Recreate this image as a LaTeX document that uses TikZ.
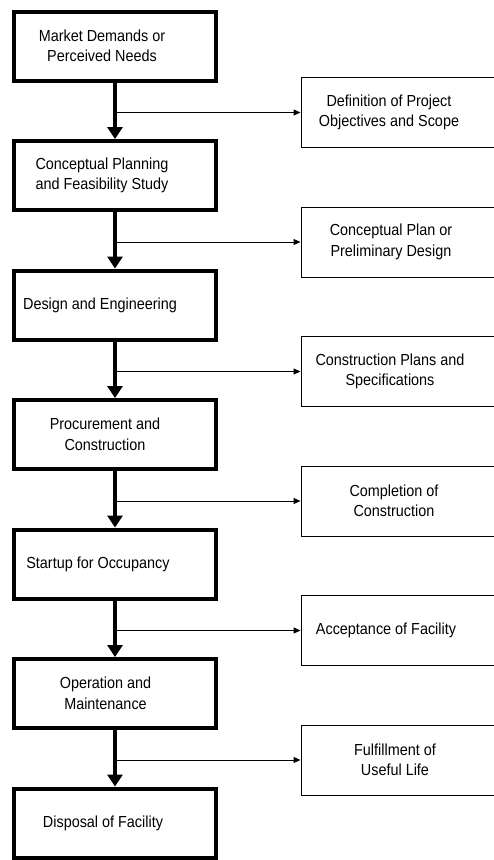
\documentclass[tikz,border=0pt]{standalone}
\usepackage{fontspec}
\setmainfont{Liberation Sans}[FakeStretch=0.9]
\usetikzlibrary{arrows.meta}
\begin{document}
\begin{tikzpicture}[x=1pt,y=-1pt,
  stagebox/.style={draw, line width=4pt, minimum width=202pt, minimum height=69pt, inner sep=0pt},
  outbox/.style={draw, line width=1pt, minimum width=230pt, minimum height=70pt, anchor=west, inner sep=0pt},
  txt/.style={align=center, font=\fontsize{16}{20.5}\selectfont, inner sep=0pt},
  flow/.style={line width=4pt, -{Triangle[length=12pt,width=15pt]}},
  feed/.style={line width=1pt, -{Triangle[length=7pt,width=6pt]}}]
\clip (0,0) rectangle (494,860);

% project stages (left column)
\node[stagebox] (b0) at (115,46) {};
\node[stagebox] (b1) at (115,175.5) {};
\node[stagebox] (b2) at (115,305) {};
\node[stagebox] (b3) at (115,434.5) {};
\node[stagebox] (b4) at (115,564) {};
\node[stagebox] (b5) at (115,693.5) {};
\node[stagebox] (b6) at (115,823) {};

\node[txt] (t0) at (102,46) {Market Demands or\\Perceived Needs};
\node[txt] (t1) at (102,175.5) {Conceptual Planning\\and Feasibility Study};
\node[txt] (t2) at (100,305) {Design and Engineering};
\node[txt] (t3) at (105,434.5) {Procurement and\\Construction};
\node[txt] (t4) at (98,564) {Startup for Occupancy};
\node[txt] (t5) at (105.5,693.5) {Operation and\\Maintenance};
\node[txt] (t6) at (103,823) {Disposal of Facility};

% stage outcomes (right column)
\node[outbox] (r0) at (300.5,112.5) {};
\node[outbox] (r1) at (300.5,242) {};
\node[outbox] (r2) at (300.5,371.5) {};
\node[outbox] (r3) at (300.5,501) {};
\node[outbox] (r4) at (300.5,630.5) {};
\node[outbox] (r5) at (300.5,760) {};

\node[txt] (u0) at (389,112.5) {Definition of Project\\Objectives and Scope};
\node[txt] (u1) at (391,242) {Conceptual Plan or\\Preliminary Design};
\node[txt] (u2) at (390,371.5) {Construction Plans and\\Specifications};
\node[txt] (u3) at (394,501) {Completion of\\Construction};
\node[txt] (u4) at (386,630.5) {Acceptance of Facility};
\node[txt] (u5) at (395,760) {Fulfillment of\\Useful Life};

% main flow between stages
\foreach \a/\b in {b0/b1,b1/b2,b2/b3,b3/b4,b4/b5,b5/b6}
  \draw[flow] (\a.south) -- (\b.north);

% branches to the outcomes
\foreach \i in {0,...,5}{
  \coordinate (j\i) at (b0.south |- r\i.west);
  \draw[feed] (j\i) -- (r\i.west);
}
\end{tikzpicture}
\end{document}
